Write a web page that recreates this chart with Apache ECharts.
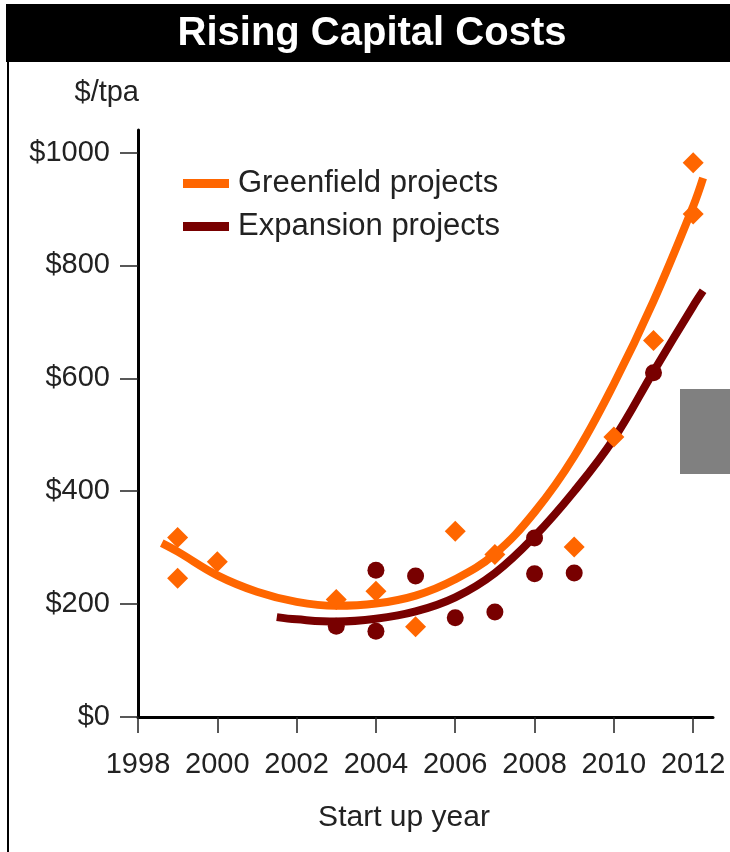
<!DOCTYPE html>
<html>
<head>
<meta charset="utf-8">
<script src="https://cdn.jsdelivr.net/npm/echarts@6/dist/echarts.min.js"></script>
<style>
html,body{margin:0;padding:0;background:#fff;}
#chart{width:730px;height:852px;}
</style>
</head>
<body>
<div id="chart"></div>
<script>
// ---- data ----
const xTicks = [1998, 2000, 2002, 2004, 2006, 2008, 2010, 2012];
const yTicks = [0, 200, 400, 600, 800, 1000];

const greenfieldPoints = [
  [1999, 318], [1999, 246], [2000, 275], [2003, 208], [2004, 223],
  [2005, 160], [2006, 329], [2007, 288], [2009, 301], [2010, 496],
  [2011, 667], [2012, 982], [2012, 891]
];
const expansionPoints = [
  [2003, 161], [2004, 260], [2004, 152], [2005, 250], [2006, 176],
  [2007, 186], [2008, 317], [2008, 254], [2009, 255], [2011, 610]
];
// trend curves
const greenfieldTrend = [
  [1998.6, 308], [1999, 293], [2000, 251], [2001, 222], [2002, 204],
  [2003, 197], [2004, 201], [2005, 215], [2006, 244], [2007, 289],
  [2008, 363], [2009, 462], [2010, 590], [2011, 737], [2012, 905], [2012.25, 955]
];
const expansionTrend = [
  [2001.5, 177], [2002, 173], [2003, 169], [2004, 174], [2005, 187],
  [2006, 212], [2007, 255], [2008, 320], [2009, 400], [2010, 493],
  [2011, 612], [2012, 728], [2012.25, 755]
];

const ORANGE = '#FF6600';
const DARKRED = '#780000';
const FONT = '"Liberation Sans", Arial, sans-serif';
const TXT = '#222';

const chart = echarts.init(document.getElementById('chart'), null, {renderer: 'canvas'});
chart.setOption({
  animation: false,
  backgroundColor: '#fff',
  textStyle: {fontFamily: FONT},
  grid: {left: 138, right: 17, top: 130, bottom: 135, containLabel: false},
  graphic: [
    {type: 'rect', shape: {x: 6, y: 4, width: 730, height: 58}, style: {fill: '#000'}, z: 0},
    {type: 'line', shape: {x1: 8, y1: 4, x2: 8, y2: 852}, style: {stroke: '#000', lineWidth: 2}, z: 0},
    {type: 'text', x: 372, y: 34, z: 10,
      style: {text: 'Rising Capital Costs', fill: '#fff', font: 'bold 40px ' + FONT, textAlign: 'center', textVerticalAlign: 'middle'}},
    {type: 'text', x: 139, y: 93, z: 10,
      style: {text: '$/tpa', fill: TXT, font: '29px ' + FONT, textAlign: 'right', textVerticalAlign: 'middle'}},
    {type: 'text', x: 404, y: 818, z: 10,
      style: {text: 'Start up year', fill: TXT, font: '30px ' + FONT, textAlign: 'center', textVerticalAlign: 'middle'}},
    {type: 'rect', shape: {x: 680, y: 389, width: 60, height: 85}, style: {fill: '#808080'}, z: 10}
  ],
  legend: {
    orient: 'vertical', left: 183, top: 168, padding: 0,
    icon: 'rect', itemWidth: 46, itemHeight: 9, itemGap: 12,
    data: ['Greenfield projects', 'Expansion projects'],
    textStyle: {fontSize: 31, color: TXT, fontFamily: FONT, padding: [0, 0, 0, 4]}
  },
  xAxis: {
    type: 'value', min: 1998, max: 2012.5,
    axisLine: {show: true, lineStyle: {color: '#000', width: 3}},
    axisTick: {show: true, customValues: xTicks, length: 16, lineStyle: {color: '#222', width: 1.5}},
    axisLabel: {customValues: xTicks, margin: 33, fontSize: 29, color: TXT, fontFamily: FONT,
      formatter: v => String(v)},
    splitLine: {show: false}
  },
  yAxis: {
    type: 'value', min: 0, max: 1040,
    axisLine: {show: true, lineStyle: {color: '#000', width: 3}},
    axisTick: {show: true, customValues: yTicks, length: 18, lineStyle: {color: '#222', width: 1.5}},
    axisLabel: {customValues: yTicks, margin: 28, fontSize: 29, color: TXT, fontFamily: FONT,
      formatter: v => '$' + v},
    splitLine: {show: false}
  },
  series: [
    {name: 'Greenfield projects', type: 'line', data: greenfieldTrend, smooth: 0.4, showSymbol: false,
      lineStyle: {color: ORANGE, width: 8}, itemStyle: {color: ORANGE}, z: 2},
    {name: 'Expansion projects', type: 'line', data: expansionTrend, smooth: 0.4, showSymbol: false,
      lineStyle: {color: DARKRED, width: 8}, itemStyle: {color: DARKRED}, z: 2},
    {name: 'Greenfield points', type: 'scatter', data: greenfieldPoints, symbol: 'diamond', symbolSize: 21,
      itemStyle: {color: ORANGE, opacity: 1}, z: 3},
    {name: 'Expansion points', type: 'scatter', data: expansionPoints, symbol: 'circle', symbolSize: 17,
      itemStyle: {color: DARKRED, opacity: 1}, z: 3}
  ]
});
</script>
</body>
</html>
